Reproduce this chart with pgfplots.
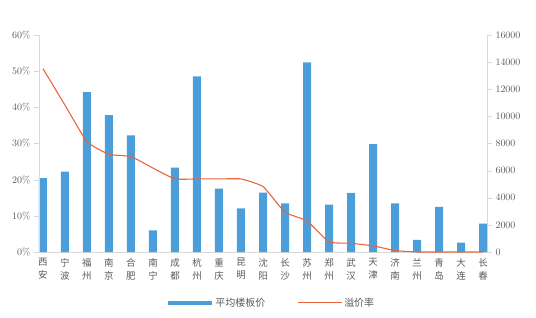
\documentclass[border=0pt]{standalone}
\usepackage{pgfplots}
\pgfplotsset{compat=1.18}
\usepackage{fontspec}
\newfontfamily\cjk{Noto Sans CJK SC}
\definecolor{barblue}{HTML}{4A9FDB}
\definecolor{lineorange}{HTML}{E9663D}
\definecolor{axgray}{HTML}{D9D9D9}
\definecolor{txtgray}{HTML}{595959}
\begin{document}
\begin{tikzpicture}
\useasboundingbox (-39bp,-66bp) rectangle (497bp,252bp);
\begin{axis}[
  scale only axis, width=448bp, height=217bp,
  xmin=-0.18, xmax=20.18, ymin=0, ymax=16000,
  axis y line*=right, axis x line*=bottom,
  axis line style={axgray}, 
  xtick={0,...,20},
  xticklabels={西\\安,宁\\波,福\\州,南\\京,合\\肥,南\\宁,成\\都,杭\\州,重\\庆,昆\\明,沈\\阳,长\\沙,苏\\州,郑\\州,武\\汉,天\\津,济\\南,兰\\州,青\\岛,大\\连,长\\春},
  xticklabel style={align=center, font=\cjk\fontsize{9.5}{13}\selectfont, text=txtgray, inner sep=1bp},
  major x tick style={draw=none},
  ytick={0,2000,...,16000},
  scaled y ticks=false,
  yticklabel style={/pgf/number format/1000 sep={}, font=\fontsize{10}{11}\selectfont, text=txtgray},
  major y tick style={axgray},
  tick align=outside, major tick length=5bp,
  clip=false,
]
\addplot[ybar, bar width=8bp, fill=barblue, draw=none] coordinates {
(0,5440) (1,5930) (2,11790) (3,10090) (4,8590) (5,1600) (6,6230) (7,12950) (8,4680) (9,3220) (10,4380) (11,3590) (12,13980) (13,3500) (14,4360) (15,7950) (16,3590) (17,890) (18,3320) (19,690) (20,2090)
};
\end{axis}
\begin{axis}[
  scale only axis, width=448bp, height=217bp,
  xmin=-0.18, xmax=20.18, ymin=0, ymax=60,
  axis y line*=left, hide x axis,
  axis line style={axgray},
  ytick={0,10,...,60},
  yticklabel={\pgfmathprintnumber{\tick}\%},
  yticklabel style={font=\fontsize{10}{11}\selectfont, text=txtgray},
  major y tick style={axgray},
  tick align=outside, major tick length=5bp,
  legend style={at={(0.518,-0.235)}, anchor=center, draw=none, legend columns=2,
    font=\cjk\fontsize{10}{11}\selectfont, text=txtgray,
    /tikz/every even column/.append style={column sep=30bp}},
  legend cell align=left,
]
\addlegendimage{legend image code/.code={\draw[barblue, line width=3.5bp] (0bp,0bp) -- (44bp,0bp);}}
\addlegendentry{平均楼板价}
\addplot[lineorange, line width=1.1bp, smooth, tension=0.25, legend image code/.code={\draw[lineorange, line width=1bp] (0bp,0bp) -- (44bp,0bp);}] coordinates {
(0,50.7) (1,40.6) (2,30.5) (3,27.0) (4,26.4) (5,23.2) (6,20.2) (7,20.2) (8,20.2) (9,20.2) (10,18.1) (11,11.0) (12,8.6) (13,2.8) (14,2.4) (15,1.7) (16,0.4) (17,0) (18,0) (19,0) (20,0)
};
\addlegendentry{溢价率}
\end{axis}
\end{tikzpicture}
\end{document}
